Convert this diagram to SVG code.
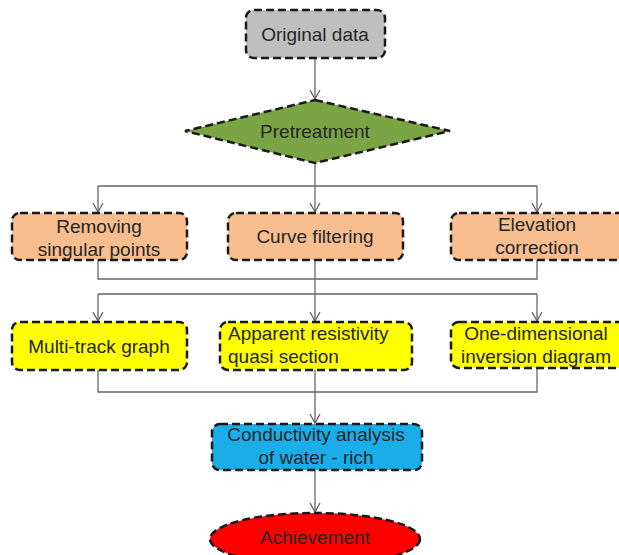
<svg xmlns="http://www.w3.org/2000/svg" width="619" height="555" viewBox="0 0 619 555">
<defs>
<marker id="arr" viewBox="0 0 12 12" refX="10" refY="6" markerWidth="12" markerHeight="12" markerUnits="userSpaceOnUse" orient="auto">
<path d="M1,1 L10,6 L1,11" fill="none" stroke="#595959" stroke-width="1.2"/>
</marker>
<style>
.n{stroke:#1a1a1a;stroke-width:2.5;stroke-dasharray:8 4}
.t{font-family:"Liberation Sans",Arial,sans-serif;font-size:19px;fill:#262626;text-anchor:middle}
.c{fill:none;stroke:#666;stroke-width:1.3}
</style>
</defs>
<rect width="619" height="555" fill="#fff"/>
<g id="connectors">
<path class="c" d="M315,58 V99" marker-end="url(#arr)"/>
<path class="c" d="M315,163 V186"/>
<path class="c" d="M98,186 H537"/>
<path class="c" d="M98,186 V212" marker-end="url(#arr)"/>
<path class="c" d="M315,186 V212" marker-end="url(#arr)"/>
<path class="c" d="M537,186 V212" marker-end="url(#arr)"/>
<path class="c" d="M98,260 V279 H537 V260"/>
<path class="c" d="M315,260 V294"/>
<path class="c" d="M98,294 H537"/>
<path class="c" d="M98,294 V321" marker-end="url(#arr)"/>
<path class="c" d="M315,294 V321" marker-end="url(#arr)"/>
<path class="c" d="M537,294 V321" marker-end="url(#arr)"/>
<path class="c" d="M98,370 V392 H537 V368"/>
<path class="c" d="M315,370 V423" marker-end="url(#arr)"/>
<path class="c" d="M315,470 V512" marker-end="url(#arr)"/>
</g>
<g id="original">
<rect class="n" x="246" y="10" width="139" height="48" rx="8" fill="#BFBFBF"/>
<text class="t" x="315" y="41">Original data</text>
</g>
<g id="pretreatment">
<polygon class="n" points="315,100 450,131 315,163 185,131" fill="#7BA545"/>
<text class="t" x="315" y="138">Pretreatment</text>
</g>
<g id="removing">
<rect class="n" x="12" y="213" width="175" height="47" rx="8" fill="#F8BE8F"/>
<text class="t" x="99" y="233">Removing</text>
<text class="t" x="99" y="256">singular points</text>
</g>
<g id="curve">
<rect class="n" x="228" y="213" width="175" height="47" rx="8" fill="#F8BE8F"/>
<text class="t" x="315" y="243">Curve filtering</text>
</g>
<g id="elevation">
<rect class="n" x="451" y="213" width="175" height="47" rx="8" fill="#F8BE8F"/>
<text class="t" x="537" y="231">Elevation</text>
<text class="t" x="537" y="254">correction</text>
</g>
<g id="multitrack">
<rect class="n" x="12" y="322" width="175" height="48" rx="8" fill="#FFFF00"/>
<text class="t" x="99" y="353">Multi-track graph</text>
</g>
<g id="apparent">
<rect class="n" x="220" y="322" width="192" height="48" rx="8" fill="#FFFF00"/>
<text class="t" x="228" y="340" style="text-anchor:start">Apparent resistivity</text>
<text class="t" x="228" y="363" style="text-anchor:start">quasi section</text>
</g>
<g id="onedim">
<rect class="n" x="451" y="322" width="175" height="46" rx="8" fill="#FFFF00"/>
<text class="t" x="536" y="340">One-dimensional</text>
<text class="t" x="536" y="363">inversion diagram</text>
</g>
<g id="conductivity">
<rect class="n" x="212" y="424" width="210" height="46" rx="8" fill="#1AADE8"/>
<text class="t" x="316" y="441">Conductivity analysis</text>
<text class="t" x="316" y="464">of water - rich</text>
</g>
<g id="achievement">
<ellipse class="n" cx="315" cy="539" rx="105" ry="26" fill="#FF0000"/>
<text class="t" x="315" y="544">Achievement</text>
</g>
</svg>
